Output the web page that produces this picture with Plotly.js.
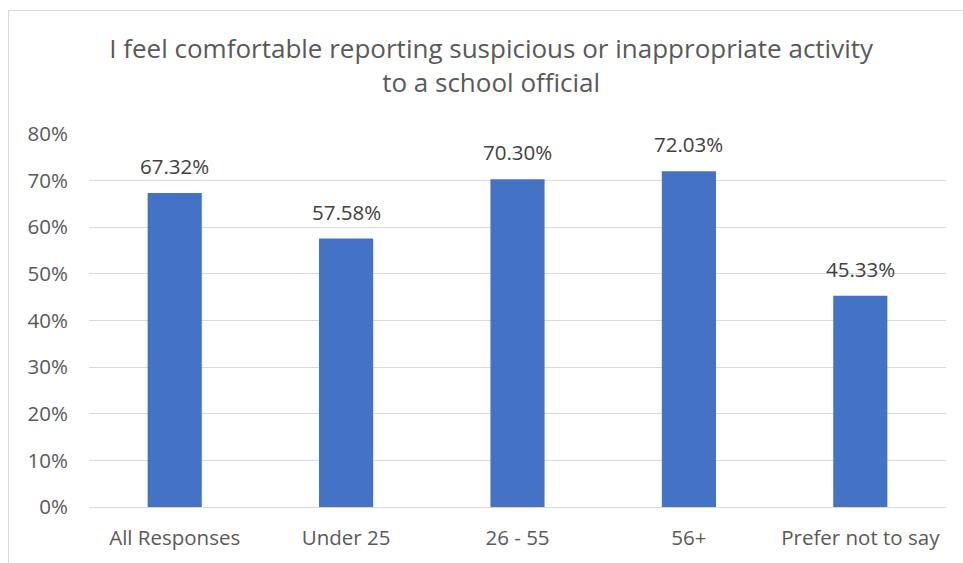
<!DOCTYPE html>
<html>
<head>
<meta charset="utf-8">
<script src="https://cdn.plot.ly/plotly-3.0.1.min.js"></script>
<style>
html,body{margin:0;padding:0;background:#fff;}
#frame{position:absolute;left:8px;top:10px;width:1000px;height:600px;border:1px solid #d9d9d9;}
#chart{position:absolute;left:0;top:0;width:963px;height:563px;}
</style>
</head>
<body>
<div id="frame"></div>
<div id="chart"></div>
<script>
const categories = ["All Responses", "Under 25", "26 - 55", "56+", "Prefer not to say"];
const values = [0.6732, 0.5758, 0.7030, 0.7203, 0.4533];
const yTickVals = [0, 0.1, 0.2, 0.3, 0.4, 0.5, 0.6, 0.7, 0.8];
const chartTitle = "I feel comfortable reporting suspicious or inappropriate activity<br>to a school official";

const FONT = "'Open Sans', sans-serif";
const trace = {
  type: "bar",
  x: categories,
  y: values,
  marker: {color: "#4472c4"},
  hoverinfo: "skip"
};
const labels = categories.map((c, i) => ({
  x: c, y: values[i], xref: "x", yref: "y",
  text: (values[i] * 100).toFixed(2) + "%",
  showarrow: false, yanchor: "bottom", yshift: 11,
  font: {family: FONT, size: 20.5, color: "#404040"}
}));
const layout = {
  width: 963, height: 563,
  paper_bgcolor: "rgba(0,0,0,0)",
  plot_bgcolor: "rgba(0,0,0,0)",
  margin: {l: 89, r: 17, t: 134, b: 56},
  font: {family: FONT, color: "#595959"},
  title: {
    text: chartTitle,
    font: {family: FONT, size: 26, color: "#595959"},
    x: 0.51, xref: "container", xanchor: "center",
    y: 0.8965, yref: "container", yanchor: "top"
  },
  bargap: 0.684,
  showlegend: false,
  annotations: labels,
  xaxis: {
    showgrid: false, zeroline: false, showline: false,
    tickfont: {family: FONT, size: 20.5, color: "#595959"},
    ticklabelstandoff: 16
  },
  yaxis: {
    range: [0, 0.8],
    tickvals: yTickVals,
    tickformat: ".0%",
    showgrid: true, gridcolor: "#d9d9d9", gridwidth: 1,
    zeroline: true, zerolinecolor: "#d9d9d9", zerolinewidth: 1,
    showline: false,
    tickfont: {family: FONT, size: 20.5, color: "#595959"},
    ticklabelstandoff: 20
  }
};
Plotly.newPlot("chart", [trace], layout, {displayModeBar: false, staticPlot: true});
</script>
</body>
</html>
